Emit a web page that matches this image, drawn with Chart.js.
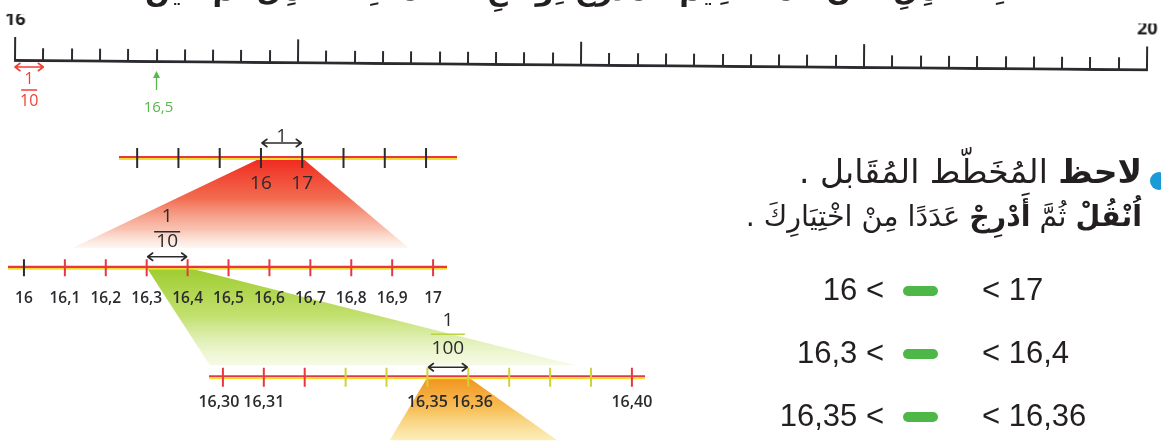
<!DOCTYPE html>
<html lang="ar"><head><meta charset="utf-8">
<title>16 &lt; ... &lt; 17</title>
<script src="https://cdn.jsdelivr.net/npm/chart.js@4.4.1/dist/chart.umd.min.js"></script>
<style>
html,body{margin:0;padding:0;background:#fff;overflow:hidden}
#page{position:relative;width:1161px;height:444px;overflow:hidden;background:#fff}
.box{position:absolute}
.box canvas{display:block}
.ar{position:absolute;direction:rtl;font-family:"DejaVu Sans",sans-serif;color:#231f20;white-space:nowrap;line-height:1}
.num{position:absolute;font-family:"Liberation Sans",Arial,sans-serif;font-size:31px;line-height:30px;color:#231f20;white-space:nowrap}
.pill{position:absolute;width:35px;height:10px;border-radius:5px;background:#4db748}
</style></head>
<body>
<div id="page">
  <div id="bgBox" class="box" style="left:0;top:0"><canvas id="bg" width="1161" height="444"></canvas></div>
  <div id="rulerWrap" class="box" style="left:0;top:0;width:1161px;height:444px;transform-origin:15px 60px;transform:rotate(0.48deg)">
    <div id="rMajorBox" class="box"><canvas id="rMajor"></canvas></div>
    <div id="rMinorBox" class="box"><canvas id="rMinor"></canvas></div>
  </div>
  <div id="aBox" class="box"><canvas id="lineA"></canvas></div>
  <div id="bBox" class="box"><canvas id="lineB"></canvas></div>
  <div id="cBox" class="box"><canvas id="lineC"></canvas></div>

  <div class="ar" style="right:156px;top:-24px;font-size:29px;font-weight:bold">اِسْتَعْمِلِ الْآنَ الْمُسْتَقِيمَ الْمُدَرَّجَ لِوَضْعِ الْعَلامَاتِ : أَكْمِلْ ثُمَّ عَيِّنْ .</div>
  <div style="position:absolute;left:1150px;top:172px;width:18px;height:18px;border-radius:50%;background:#1a9ad6"></div>
  <div class="ar" style="right:19px;top:155px;font-size:33px"><b>لاحظ</b> المُخَطّط المُقَابل .</div>
  <div class="ar" style="right:19px;top:203px;font-size:28.5px"><b>اُنْقُلْ</b> ثُمَّ <b>أَدْرِجْ</b> عَدَدًا مِنْ اخْتِيَارِكَ .</div>
  <div id="rows"></div>
</div>
<script>
// ---------------- data ----------------
const rulerRange = [16, 20];
const rulerMajorStep = 1;
const rulerMinorStep = 0.1;
const rulerEndLabels = [16, 20];
const rulerUnitSpan = [16, 16.1];
const rulerUnitText = ['1', '10'];
const rulerPointer = [16.5];
const rulerPointerLabel = ['16,5'];

const lineARange = [12.56, 20.75];
const lineATicks = [13, 14, 15, 16, 17, 18, 19, 20];
const lineALabels = ['', '', '', '16', '17', '', '', ''];

const lineBRange = [15.961, 17.034];
const lineBTicks = [16, 16.1, 16.2, 16.3, 16.4, 16.5, 16.6, 16.7, 16.8, 16.9, 17];
const lineBLabels = ['16', '16,1', '16,2', '16,3', '16,4', '16,5', '16,6', '16,7', '16,8', '16,9', '17'];

const lineCRange = [16.2966, 16.4032];
const lineCTicks = [16.30, 16.31, 16.32, 16.33, 16.34, 16.35, 16.36, 16.37, 16.38, 16.39, 16.40];
const lineCLabels = ['16,30\u2002', '16,31', '', '', '', '16,35', '\u200216,36', '', '', '', '16,40'];
const lineCYellowTicks = [16.33, 16.34, 16.35, 16.36, 16.37, 16.38, 16.39];

const zoomIntervals = [[16, 17], [16.3, 16.4], [16.35, 16.36]];
const zoomStepText = [['1', ''], ['1', '10'], ['1', '100']];
const coneBases = [[16.12, 16.94], [16.2968, 16.3861], [16.3408, 16.3817]];

const compareLow = ['16', '16,3', '16,35'];
const compareHigh = ['17', '16,4', '16,36'];

// ---------------- styles / layout ----------------
Chart.defaults.font.family = "'Open Sans', sans-serif";
const INK = '#2b2a2e';
const RED = '#e8383f';
const YEL = '#f2de2c';
const PADX = 30;

function sizeCanvas(canvasId, boxId, left, top, w, h) {
  const c = document.getElementById(canvasId);
  c.width = w; c.height = h; c.style.width = w + 'px'; c.style.height = h + 'px';
  const s = document.getElementById(boxId).style;
  s.left = left + 'px'; s.top = top + 'px'; s.width = w + 'px'; s.height = h + 'px';
  return c;
}

function lineGradient(chart) {
  if (!chart.chartArea) return RED;
  const y = chart.scales.y.getPixelForValue(0);
  const g = chart.ctx.createLinearGradient(0, y - 2, 0, y + 2);
  g.addColorStop(0, RED); g.addColorStop(0.5, RED);
  g.addColorStop(0.5, YEL); g.addColorStop(1, YEL);
  return g;
}

const baseOpts = {
  responsive: false, animation: false, events: [], devicePixelRatio: 1,
  plugins: { legend: { display: false }, tooltip: { enabled: false } }
};

function numberLine(canvasId, boxId, lay, range, ticks, labels, tickColor) {
  const H = 90, W = lay.right - lay.left + 2 * PADX;
  const cv = sizeCanvas(canvasId, boxId, lay.left - PADX, 0, W, H);
  const ch = new Chart(cv, {
    type: 'scatter',
    data: { datasets: [
      { data: ticks.map(v => ({ x: v, y: 0 })),
        pointStyle: 'line', pointRotation: 90, pointRadius: lay.tickHalf,
        pointBorderWidth: lay.tickWidth, pointBackgroundColor: 'rgba(0,0,0,0)',
        pointBorderColor: c => tickColor(ticks[c.dataIndex], c.dataIndex),
        showLine: false, clip: false },
      { data: [{ x: range[0], y: 0 }, { x: range[1], y: 0 }],
        showLine: true, borderWidth: 4, pointRadius: 0, clip: false,
        borderColor: c => lineGradient(c.chart) }
    ]},
    options: Object.assign({}, baseOpts, {
      layout: { padding: { left: PADX, right: PADX, top: 14, bottom: 0 } },
      scales: {
        x: { type: 'linear', position: { y: 0 }, min: range[0], max: range[1],
             afterBuildTicks: ax => { ax.ticks = ticks.map(v => ({ value: v })); },
             grid: { display: false, drawTicks: false }, border: { display: false },
             ticks: { autoSkip: false, maxRotation: 0, minRotation: 0, padding: lay.labelGap - 10, color: INK,
                      font: { size: lay.font, weight: lay.weight, lineHeight: '20px' },
                      callback: (v, i) => labels[i] } },
        y: { display: false, min: -1, max: 1 }
      }
    })
  });
  // put the value-0 line of the chart on its page position
  document.getElementById(boxId).style.top = (lay.lineY - ch.scales.y.getPixelForValue(0)) + 'px';
  return ch;
}

const chartA = numberLine('lineA', 'aBox', { left: 119, right: 457, lineY: 158, tickHalf: 10, tickWidth: 2, font: 19, weight: 500, labelGap: 25.5 },
  lineARange, lineATicks, lineALabels, () => INK);
const chartB = numberLine('lineB', 'bBox', { left: 8, right: 447, lineY: 268, tickHalf: 8.5, tickWidth: 2, font: 15.5, weight: 600, labelGap: 30.5 },
  lineBRange, lineBTicks, lineBLabels, (v, i) => i === 0 ? INK : RED);
const chartC = numberLine('lineC', 'cBox', { left: 209, right: 645, lineY: 377, tickHalf: 9.5, tickWidth: 2, font: 16, weight: 600, labelGap: 25 },
  lineCRange, lineCTicks, lineCLabels, v => lineCYellowTicks.some(t => Math.abs(t - v) < 1e-6) ? '#cfd23a' : RED);

// ---- top ruler (major ticks + end labels) ----
const chartR = new Chart(sizeCanvas('rMajor', 'rMajorBox', -5, 0, 1172, 62), {
  type: 'scatter', data: { datasets: [] },
  options: Object.assign({}, baseOpts, {
    layout: { padding: { left: 20, right: 20, top: 14, bottom: 2 } },
    scales: {
      x: { type: 'linear', position: 'bottom', min: rulerRange[0], max: rulerRange[1],
           ticks: { display: false, stepSize: rulerMajorStep },
           grid: { drawTicks: false, color: INK, lineWidth: 2 },
           border: { display: true, color: INK, width: 3 } },
      xTop: { type: 'linear', axis: 'x', position: 'top', min: rulerRange[0], max: rulerRange[1],
              afterBuildTicks: ax => { ax.ticks = rulerEndLabels.map(v => ({ value: v })); },
              grid: { display: false, drawTicks: false }, border: { display: false },
              ticks: { autoSkip: false, maxRotation: 0, padding: 7, color: '#1e1d1f',
                       font: { size: 18, weight: 'bold', lineHeight: '20px' } } },
      y: { display: false, min: 0, max: 1 }
    }
  })
});
// ---- top ruler (minor ticks) ----
const chartRm = new Chart(sizeCanvas('rMinor', 'rMinorBox', -5, 40, 1172, 22), {
  type: 'scatter', data: { datasets: [] },
  options: Object.assign({}, baseOpts, {
    layout: { padding: { left: 20, right: 20, top: 8, bottom: 2 } },
    scales: {
      x: { type: 'linear', position: 'bottom', min: rulerRange[0], max: rulerRange[1],
           ticks: { display: false, stepSize: rulerMinorStep, autoSkip: false },
           grid: { drawTicks: false, lineWidth: 2,
                   color: c => (c.tick && Math.abs(c.tick.value - Math.round(c.tick.value)) < 1e-6) ? 'rgba(0,0,0,0)' : INK },
           border: { display: false } },
      y: { display: false, min: 0, max: 1 }
    }
  })
});

// ---------------- cones + annotations (drawn from the number lines' scales) ----------------
const px = (ch, v) => ch.canvas.parentNode.offsetLeft + ch.scales.x.getPixelForValue(v);
const py = ch => ch.canvas.parentNode.offsetTop + ch.scales.y.getPixelForValue(0);
const pyRuler = ch => ch.canvas.parentNode.offsetTop + ch.chartArea.bottom;

const coneStyles = [
  { from: chartA, to: chartB, baseDy: -20,
    stops: [[0, 'rgba(240,40,30,1)'], [0.45, 'rgba(242,100,70,0.95)'], [0.8, 'rgba(246,170,145,0.7)'], [1, 'rgba(250,225,210,0.35)']] },
  { from: chartB, to: chartC, baseDy: -12,
    stops: [[0, 'rgba(158,204,46,1)'], [0.5, 'rgba(188,221,96,0.9)'], [1, 'rgba(234,245,200,0.45)']] },
  { from: chartC, to: chartC, baseDy: 63,
    stops: [[0, 'rgba(242,146,28,1)'], [0.5, 'rgba(246,184,68,0.9)'], [1, 'rgba(250,226,140,0.6)']] }
];
const stepStyles = [
  { chart: chartA, arrowDy: -15, numDy: -21, barDy: null, denDy: null, font: 18, bar: INK, barW: 0 },
  { chart: chartB, arrowDy: -11, numDy: -51.5, barDy: -36, denDy: -26.5, font: 19, bar: INK, barW: 26 },
  { chart: chartC, arrowDy: -10, numDy: -57, barDy: -43, denDy: -28.5, font: 19, bar: '#b9d640', barW: 34 }
];

function dblArrow(ctx, x1, x2, y, color, w, head) {
  ctx.save(); ctx.strokeStyle = color; ctx.lineWidth = w; ctx.lineCap = 'round'; ctx.lineJoin = 'round';
  ctx.beginPath(); ctx.moveTo(x1, y); ctx.lineTo(x2, y);
  ctx.moveTo(x1 + head, y - head * 0.75); ctx.lineTo(x1, y); ctx.lineTo(x1 + head, y + head * 0.75);
  ctx.moveTo(x2 - head, y - head * 0.75); ctx.lineTo(x2, y); ctx.lineTo(x2 - head, y + head * 0.75);
  ctx.stroke(); ctx.restore();
}
function text(ctx, s, x, y, font, color) {
  ctx.save(); ctx.font = font; ctx.fillStyle = color; ctx.textAlign = 'center'; ctx.textBaseline = 'middle';
  ctx.fillText(s, x, y); ctx.restore();
}
function hbar(ctx, xc, y, w, color, lw) {
  ctx.save(); ctx.strokeStyle = color; ctx.lineWidth = lw; ctx.beginPath();
  ctx.moveTo(xc - w / 2, y); ctx.lineTo(xc + w / 2, y); ctx.stroke(); ctx.restore();
}

const diagramPlugin = {
  id: 'diagram',
  beforeDraw(chart) {
    const ctx = chart.ctx;
    coneStyles.forEach((cs, i) => {
      const yTop = py(cs.from), yBot = py(cs.to) + cs.baseDy;
      const g = ctx.createLinearGradient(0, yTop, 0, yBot);
      cs.stops.forEach(s => g.addColorStop(s[0], s[1]));
      ctx.save(); ctx.fillStyle = g; ctx.beginPath();
      ctx.moveTo(px(cs.from, zoomIntervals[i][0]), yTop);
      ctx.lineTo(px(cs.from, zoomIntervals[i][1]), yTop);
      ctx.lineTo(px(cs.to, coneBases[i][1]), yBot);
      ctx.lineTo(px(cs.to, coneBases[i][0]), yBot);
      ctx.closePath(); ctx.fill(); ctx.restore();
    });
  },
  afterDraw(chart) {
    const ctx = chart.ctx;
    stepStyles.forEach((st, i) => {
      const y0 = py(st.chart);
      const x1 = px(st.chart, zoomIntervals[i][0]), x2 = px(st.chart, zoomIntervals[i][1]);
      const xc = (x1 + x2) / 2, f = st.font + "px 'Open Sans'";
      dblArrow(ctx, x1 + 1, x2 - 1, y0 + st.arrowDy, INK, 1.6, 5);
      text(ctx, zoomStepText[i][0], xc, y0 + st.numDy, f, INK);
      if (zoomStepText[i][1]) {
        hbar(ctx, xc, y0 + st.barDy, st.barW, st.bar, 1.5);
        text(ctx, zoomStepText[i][1], xc, y0 + st.denDy, f, INK);
      }
    });
    // top ruler annotations
    const yR = pyRuler(chartR);
    const r1 = px(chartR, rulerUnitSpan[0]), r2 = px(chartR, rulerUnitSpan[1]), rc = (r1 + r2) / 2;
    const RR = '#ee4036';
    dblArrow(ctx, r1, r2, yR + 7, RR, 1.6, 5);
    text(ctx, rulerUnitText[0], rc, yR + 19, "16px 'Open Sans'", RR);
    hbar(ctx, rc, yR + 30, 16, RR, 1.5);
    text(ctx, rulerUnitText[1], rc, yR + 41, "16px 'Open Sans'", RR);
    const GG = '#56b94a';
    rulerPointer.forEach((v, i) => {
      const x = px(chartR, v);
      ctx.save(); ctx.strokeStyle = GG; ctx.fillStyle = GG; ctx.lineWidth = 1.3;
      ctx.beginPath(); ctx.moveTo(x, yR + 30); ctx.lineTo(x, yR + 16); ctx.stroke();
      ctx.beginPath(); ctx.moveTo(x, yR + 11); ctx.lineTo(x - 3.5, yR + 18); ctx.lineTo(x + 3.5, yR + 18); ctx.closePath(); ctx.fill();
      ctx.restore();
      text(ctx, rulerPointerLabel[i], x + 2, yR + 48, "15px 'Open Sans'", GG);
    });
  }
};

new Chart(document.getElementById('bg'), {
  type: 'scatter', data: { datasets: [] },
  options: Object.assign({}, baseOpts, { scales: { x: { display: false }, y: { display: false } } }),
  plugins: [diagramPlugin]
});

// ---------------- comparison rows ----------------
const rowsEl = document.getElementById('rows');
const rowY = [290, 353, 416];
compareLow.forEach((lo, i) => {
  const a = document.createElement('div'); a.className = 'num';
  a.style.right = (1161 - 884) + 'px'; a.style.top = (rowY[i] - 15) + 'px'; a.textContent = lo + ' <';
  const p = document.createElement('div'); p.className = 'pill';
  p.style.left = '903px'; p.style.top = (rowY[i] - 4) + 'px';
  const b = document.createElement('div'); b.className = 'num';
  b.style.left = '982px'; b.style.top = (rowY[i] - 15) + 'px'; b.textContent = '< ' + compareHigh[i];
  rowsEl.append(a, p, b);
});
</script>
</body></html>
